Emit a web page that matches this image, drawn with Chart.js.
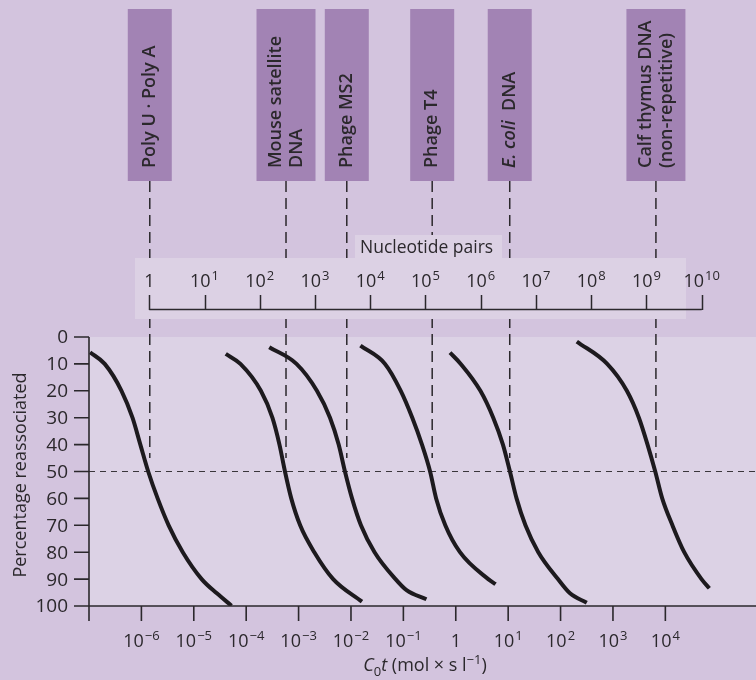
<!DOCTYPE html>
<html>
<head>
<meta charset="utf-8">
<script src="https://cdn.jsdelivr.net/npm/chart.js@4.4.1/dist/chart.umd.min.js"></script>
<style>
html, body { margin: 0; padding: 0; background: #d3c4de; }
canvas { display: block; }
</style>
</head>
<body>
<canvas id="grafica" width="756" height="680"></canvas>
<script>
const ctx = document.getElementById('grafica');

// samples, left to right (one line of text per entry)
const sampleLines = [
    ['Poly U · Poly A'],
    ['Mouse satellite', 'DNA'],
    ['Phage MS2'],
    ['Phage T4'],
    ['E. coli  DNA'],
    ['Calf thymus DNA', '(non-repetitive)']
];
// log10 C0t where each dashed guide line drops down
const halfLogC0t = [-5.84, -3.24, -2.08, -0.45, 1.03, 3.82];

// reassociation curves: x = log10 C0t, y = percentage reassociated
const polyX  = [-6.98, -6.70, -6.38, -6.17, -6.02, -5.87, -5.69, -5.48, -5.21, -4.85, -4.56, -4.28];
const polyY  = [5.7, 10, 20, 30, 40, 50, 60, 70, 80, 90, 95.3, 99.9];
const mouseX = [-4.39, -4.11, -3.72, -3.50, -3.365, -3.26, -3.14, -2.97, -2.70, -2.34, -1.79];
const mouseY = [6.3, 10, 20, 30, 40, 50, 60, 70, 80, 90, 98.4];
const ms2X   = [-3.56, -3.04, -2.65, -2.40, -2.235, -2.115, -1.98, -1.81, -1.55, -1.15, -0.94, -0.56];
const ms2Y   = [3.8, 10, 20, 30, 40, 50, 60, 70, 80, 90, 94.1, 97.5];
const t4X    = [-1.82, -1.35, -1.05, -0.83, -0.645, -0.49, -0.375, -0.20, 0.08, 0.62, 0.76];
const t4Y    = [3.2, 10, 20, 30, 40, 50, 60, 70, 80, 90, 91.9];
const coliX  = [-0.11, 0.095, 0.47, 0.715, 0.90, 1.034, 1.16, 1.33, 1.575, 1.95, 2.18, 2.50];
const coliY  = [5.8, 10, 20, 30, 40, 50, 60, 70, 80, 90, 95.3, 98.8];
const calfX  = [2.31, 2.89, 3.265, 3.495, 3.66, 3.807, 3.94, 4.135, 4.36, 4.69, 4.84];
const calfY  = [1.7, 10, 20, 30, 40, 50, 60, 70, 80, 90, 93.4];

// axes
const yTicks = [0, 10, 20, 30, 40, 50, 60, 70, 80, 90, 100];
const xTickExp = [-7, -6, -5, -4, -3, -2, -1, 0, 1, 2, 3, 4];
const npTickExp = [0, 1, 2, 3, 4, 5, 6, 7, 8, 9, 10];

const FONT = '"Open Sans", "Noto Sans", sans-serif';
const INK = '#2b282c';

function puntos(xs, ys) {
    return xs.map((x, i) => ({ x: x, y: ys[i] }));
}

function potencia(c, exp, x, y) {
    c.textBaseline = 'alphabetic';
    if (exp === 0) {
        c.font = '18px ' + FONT;
        c.textAlign = 'center';
        c.fillText('1', x, y);
        return;
    }
    const sup = exp < 0 ? '\u2212' + (-exp) : String(exp);
    c.font = '18px ' + FONT;
    const wb = c.measureText('10').width;
    c.font = '13px ' + FONT;
    const ws = c.measureText(sup).width;
    const left = x - (wb + 1 + ws) / 2;
    c.textAlign = 'left';
    c.font = '18px ' + FONT;
    c.fillText('10', left, y);
    c.font = '13px ' + FONT;
    c.fillText(sup, left + wb + 1, y - 7.5);
}

const figura = {
    id: 'figura',
    beforeDraw(chart) {
        const c = chart.ctx;
        const a = chart.chartArea;
        const xs = chart.scales.x, ys = chart.scales.y, np = chart.scales.np;
        c.save();
        c.fillStyle = '#d3c4de';
        c.fillRect(0, 0, chart.width, chart.height);
        c.fillStyle = '#dcd2e5';
        c.fillRect(a.left, a.top, a.right - a.left, a.bottom - a.top);

        // sample boxes and dashed guides
        halfLogC0t.forEach((v, i) => {
            const cx = xs.getPixelForValue(v);
            const lines = sampleLines[i];
            const w = 44 + (lines.length - 1) * 15;
            c.fillStyle = '#a283b4';
            c.fillRect(cx - w / 2, 9, w, 172);
            c.strokeStyle = '#2b282c';
            c.lineWidth = 1.5;
            c.setLineDash([11, 6]);
            c.beginPath();
            c.moveTo(cx, 181);
            c.lineTo(cx, ys.getPixelForValue(45));
            c.stroke();
            c.setLineDash([]);
            c.fillStyle = INK;
            lines.forEach((t, j) => {
                const lx = cx + (j - (lines.length - 1) / 2) * 21;
                c.save();
                c.translate(lx, 168);
                c.rotate(-Math.PI / 2);
                c.textAlign = 'left';
                c.textBaseline = 'middle';
                if (t.startsWith('E. coli')) {
                    c.font = 'italic 600 18px ' + FONT;
                    c.fillText('E. coli', 0, 0);
                    const w1 = c.measureText('E. coli  ').width;
                    c.font = '600 18px ' + FONT;
                    c.fillText('DNA', w1, 0);
                } else {
                    c.font = '600 18px ' + FONT;
                    c.fillText(t, 0, 0);
                }
                c.restore();
            });
        });

        // nucleotide pairs scale
        c.fillStyle = '#dcd1e4';
        c.fillRect(135, 258, 551, 61);
        c.fillRect(355, 235, 147, 23);
        c.fillStyle = INK;
        c.font = '17.5px ' + FONT;
        c.textAlign = 'left';
        c.textBaseline = 'alphabetic';
        c.fillText('Nucleotide pairs', 360, 253);
        c.strokeStyle = INK;
        c.lineWidth = 1.5;
        c.beginPath();
        c.moveTo(np.getPixelForValue(0), 309.5);
        c.lineTo(np.getPixelForValue(10), 309.5);
        npTickExp.forEach(e => {
            const px = Math.round(np.getPixelForValue(e)) + 0.5;
            c.moveTo(px, 310);
            c.lineTo(px, 295);
        });
        c.stroke();
        npTickExp.forEach(e => potencia(c, e, np.getPixelForValue(e), 287));

        // 50% line
        c.strokeStyle = '#3a363b';
        c.lineWidth = 1.2;
        c.setLineDash([6, 5]);
        c.beginPath();
        c.moveTo(a.left, ys.getPixelForValue(50));
        c.lineTo(a.right, ys.getPixelForValue(50));
        c.stroke();
        c.restore();
    },
    afterDraw(chart) {
        const c = chart.ctx;
        const a = chart.chartArea;
        const xs = chart.scales.x, ys = chart.scales.y;
        c.save();
        c.strokeStyle = INK;
        c.lineWidth = 1.6;
        c.beginPath();
        c.moveTo(a.left, a.top);
        c.lineTo(a.left, a.bottom);
        c.lineTo(a.right, a.bottom);
        yTicks.forEach(v => {
            const py = ys.getPixelForValue(v);
            c.moveTo(a.left - 15, py);
            c.lineTo(a.left, py);
        });
        xTickExp.forEach(e => {
            const px = xs.getPixelForValue(e);
            c.moveTo(px, a.bottom);
            c.lineTo(px, a.bottom + 15);
        });
        c.stroke();

        c.fillStyle = INK;
        c.font = '19px ' + FONT;
        c.textAlign = 'right';
        c.textBaseline = 'middle';
        yTicks.forEach(v => c.fillText(String(v), a.left - 21, ys.getPixelForValue(v) + 1));
        xTickExp.filter(e => e > -7).forEach(e => potencia(c, e, xs.getPixelForValue(e), 647));

        // axis titles
        c.save();
        c.translate(21, 475);
        c.rotate(-Math.PI / 2);
        c.font = '18px ' + FONT;
        c.textAlign = 'center';
        c.textBaseline = 'middle';
        c.fillText('Percentage reassociated', 0, 0);
        c.restore();

        const parts = [
            ['C', 'italic 18px ' + FONT, 0],
            ['0', '13px ' + FONT, -5],
            ['t', 'italic 18px ' + FONT, 0],
            [' (mol \u00d7 s l', '18px ' + FONT, 0],
            ['\u22121', '13px ' + FONT, 7.5],
            [')', '18px ' + FONT, 0]
        ];
        let total = 0;
        parts.forEach(p => { c.font = p[1]; total += c.measureText(p[0]).width; });
        let px = 425 - total / 2;
        c.textAlign = 'left';
        c.textBaseline = 'alphabetic';
        parts.forEach(p => {
            c.font = p[1];
            c.fillText(p[0], px, 671 - p[2]);
            px += c.measureText(p[0]).width;
        });
        c.restore();
    }
};

const curva = (xs, ys) => ({
    data: puntos(xs, ys),
    borderColor: '#1d1a1e',
    borderWidth: 4,
    pointRadius: 0,
    fill: false,
    cubicInterpolationMode: 'monotone'
});

const myChart = new Chart(ctx, {
    type: 'line',
    data: {
        datasets: [
            curva(polyX, polyY),
            curva(mouseX, mouseY),
            curva(ms2X, ms2Y),
            curva(t4X, t4Y),
            curva(coliX, coliY),
            curva(calfX, calfY)
        ]
    },
    options: {
        responsive: false,
        animation: false,
        layout: {
            padding: { left: 89, top: 337, right: 0, bottom: 74 }
        },
        scales: {
            x: { type: 'linear', min: -7, max: 5.73, display: false },
            y: { type: 'linear', min: 0, max: 100, reverse: true, display: false },
            np: { type: 'linear', axis: 'x', min: -1.0916, max: 10.983, display: false }
        },
        plugins: {
            legend: { display: false },
            tooltip: { enabled: false }
        }
    },
    plugins: [figura]
});
</script>
</body>
</html>
